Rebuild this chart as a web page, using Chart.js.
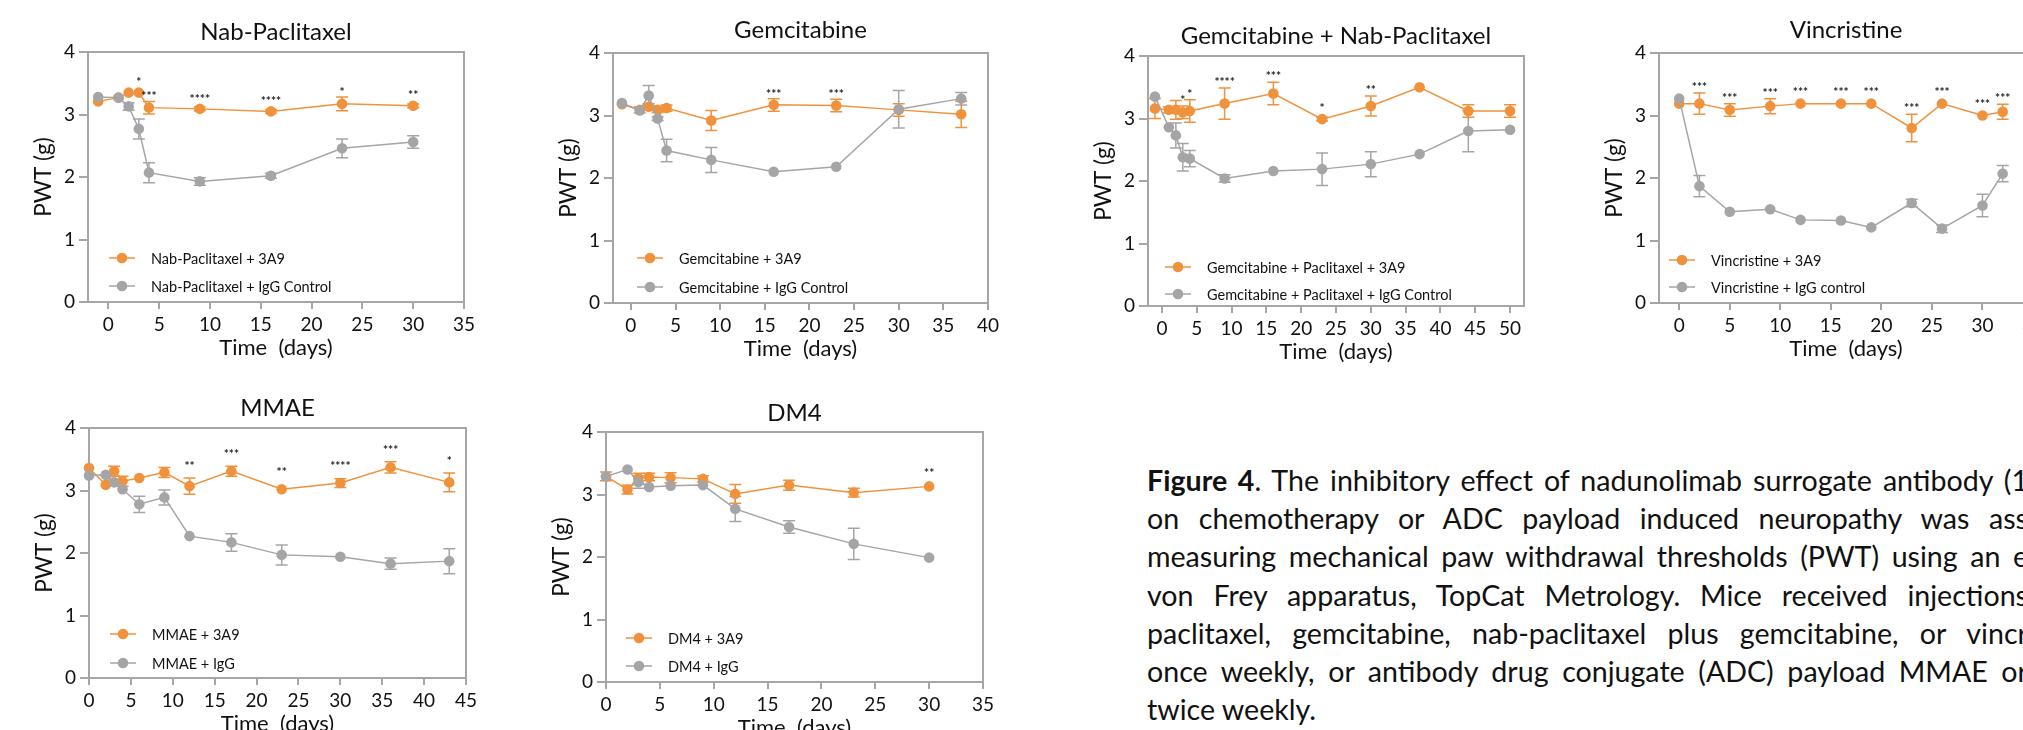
<!DOCTYPE html>
<html>
<head>
<meta charset="utf-8">
<script src="https://cdn.jsdelivr.net/npm/chart.js@4.4.0/dist/chart.umd.min.js"></script>
<style>
  html, body { margin: 0; padding: 0; background: #fff; width: 2023px; height: 730px; overflow: hidden; }
  canvas { position: absolute; }
  .caption { position: absolute; left: 1147px; top: 461px; font-family: Lato, sans-serif; font-size: 28.6px; color: #111; }
  .caption div { width: 881px; line-height: 38.2px; text-align: justify; text-align-last: justify; }
  .caption div.last { text-align-last: left; }
</style>
</head>
<body>
<div class="caption">
  <div><b>Figure 4</b>. The inhibitory effect of nadunolimab surrogate antibody (1</div>
  <div>on chemotherapy or ADC payload induced neuropathy was ass</div>
  <div>measuring mechanical paw withdrawal thresholds (PWT) using an e</div>
  <div>von Frey apparatus, TopCat Metrology. Mice received injections</div>
  <div>paclitaxel, gemcitabine, nab-paclitaxel plus gemcitabine, or vincr</div>
  <div>once weekly, or antibody drug conjugate (ADC) payload MMAE or</div>
  <div class="last">twice weekly.</div>
</div>
<script>
const orange = "#F0923B";
const gray = "#A5A5A8";
const frameColor = "#A6A6A9";

// Nab-Paclitaxel
const nabDays = [-1, 1, 2, 3, 4, 9, 16, 23, 30];
const nab3A9 = [3.21, 3.27, 3.35, 3.35, 3.11, 3.09, 3.05, 3.17, 3.14];
const nab3A9Err = [0, 0, 0, 0, 0.1, 0.03, 0.03, 0.11, 0.03];
const nabIgG = [3.28, 3.27, 3.13, 2.77, 2.07, 1.93, 2.02, 2.46, 2.56];
const nabIgGErr = [0, 0, 0.06, 0.16, 0.16, 0.06, 0.04, 0.15, 0.1];
const nabStarDays = [3, 4, 9, 16, 23, 30];
const nabStars = ["*", "***", "****", "****", "*", "**"];

// Gemcitabine
const gemDays = [-1, 1, 2, 3, 4, 9, 16, 23, 30, 37];
const gem3A9 = [3.18, 3.09, 3.14, 3.09, 3.12, 2.92, 3.17, 3.16, 3.09, 3.02];
const gem3A9Err = [0, 0.05, 0.05, 0.04, 0.05, 0.16, 0.1, 0.1, 0.1, 0.21];
const gemIgG = [3.2, 3.08, 3.32, 2.95, 2.44, 2.29, 2.1, 2.18, 3.1, 3.27];
const gemIgGErr = [0, 0, 0.16, 0.03, 0.18, 0.2, 0, 0, 0.3, 0.1];
const gemStarDays = [16, 23];
const gemStars = ["***", "***"];

// Gemcitabine + Nab-Paclitaxel
const gnDays = [-1, 1, 2, 3, 4, 9, 16, 23, 30, 37, 44, 50];
const gn3A9 = [3.16, 3.14, 3.14, 3.1, 3.12, 3.24, 3.4, 2.99, 3.2, 3.5, 3.12, 3.12];
const gn3A9Err = [0.16, 0.05, 0.15, 0.1, 0.18, 0.25, 0.18, 0.03, 0.16, 0, 0.1, 0.1];
const gnIgG = [3.35, 2.86, 2.73, 2.38, 2.36, 2.04, 2.16, 2.19, 2.27, 2.43, 2.8, 2.82];
const gnIgGErr = [0, 0, 0.2, 0.22, 0.13, 0.06, 0, 0.26, 0.2, 0, 0.33, 0];
const gnStarDays = [3, 4, 9, 16, 23, 30];
const gnStars = ["*", "*", "****", "***", "*", "**"];

// Vincristine
const vinDays = [0, 2, 5, 9, 12, 16, 19, 23, 26, 30, 32];
const vin3A9 = [3.19, 3.19, 3.09, 3.15, 3.19, 3.19, 3.19, 2.8, 3.19, 3.0, 3.06];
const vin3A9Err = [0, 0.17, 0.1, 0.12, 0, 0, 0, 0.22, 0, 0, 0.12];
const vinIgG = [3.27, 1.87, 1.46, 1.5, 1.33, 1.32, 1.21, 1.6, 1.19, 1.56, 2.07];
const vinIgGErr = [0, 0.17, 0, 0, 0, 0, 0, 0.06, 0.06, 0.18, 0.13];
const vinStarDays = [2, 5, 9, 12, 16, 19, 23, 26, 30, 32];
const vinStars = ["***", "***", "***", "***", "***", "***", "***", "***", "***", "***"];

// MMAE
const mmaeDays = [0, 2, 3, 4, 6, 9, 12, 17, 23, 30, 36, 43];
const mmae3A9 = [3.36, 3.09, 3.31, 3.15, 3.2, 3.29, 3.07, 3.31, 3.02, 3.12, 3.37, 3.13];
const mmae3A9Err = [0, 0, 0.08, 0.08, 0, 0.08, 0.13, 0.08, 0, 0.07, 0.09, 0.15];
const mmaeIgG = [3.24, 3.25, 3.13, 3.02, 2.78, 2.89, 2.27, 2.17, 1.97, 1.94, 1.83, 1.87];
const mmaeIgGErr = [0, 0, 0, 0, 0.13, 0.12, 0, 0.14, 0.16, 0, 0.09, 0.2];
const mmaeStarDays = [12, 17, 23, 30, 36, 43];
const mmaeStars = ["**", "***", "**", "****", "***", "*"];

// DM4
const dm4Days = [0, 2, 3, 4, 6, 9, 12, 17, 23, 30];
const dm43A9 = [3.29, 3.08, 3.26, 3.28, 3.27, 3.25, 3.01, 3.15, 3.03, 3.13];
const dm43A9Err = [0.07, 0.07, 0.08, 0.06, 0.08, 0.05, 0.15, 0.08, 0.07, 0];
const dm4IgG = [3.29, 3.4, 3.2, 3.12, 3.14, 3.15, 2.77, 2.48, 2.21, 1.99];
const dm4IgGErr = [0, 0, 0.1, 0, 0, 0, 0.2, 0.1, 0.25, 0];
const dm4StarDays = [30];
const dm4Stars = ["**"];

const yTicks = [0, 1, 2, 3, 4];

const panels = [
  { left: 0, top: 0, plotW: 376, xMin: -2, xMax: 35, title: "Nab-Paclitaxel", titleGap: 21,
    days: nabDays, treat: nab3A9, treatErr: nab3A9Err, ctrl: nabIgG, ctrlErr: nabIgGErr,
    starDays: nabStarDays, stars: nabStars, starGap: 8,
    labels: ["Nab-Paclitaxel + 3A9", "Nab-Paclitaxel + IgG Control"], legX: 34, legY: [-44, -16] },
  { left: 525, top: 1, plotW: 375, xMin: -2, xMax: 40, title: "Gemcitabine", titleGap: 24,
    days: gemDays, treat: gem3A9, treatErr: gem3A9Err, ctrl: gemIgG, ctrlErr: gemIgGErr,
    starDays: gemStarDays, stars: gemStars, starGap: 8,
    labels: ["Gemcitabine + 3A9", "Gemcitabine + IgG Control"], legX: 37, legY: [-45, -16] },
  { left: 1060, top: 4, plotW: 376, xMin: -2, xMax: 52, title: "Gemcitabine + Nab-Paclitaxel", titleGap: 21,
    days: gnDays, treat: gn3A9, treatErr: gn3A9Err, ctrl: gnIgG, ctrlErr: gnIgGErr,
    starDays: gnStarDays, stars: gnStars, starGap: 9,
    labels: ["Gemcitabine + Paclitaxel + 3A9", "Gemcitabine + Paclitaxel + IgG Control"], legX: 30, legY: [-39, -12] },
  { left: 1571, top: 1, plotW: 374, xMin: -2, xMax: 35, title: "Vincristine", titleGap: 24,
    days: vinDays, treat: vin3A9, treatErr: vin3A9Err, ctrl: vinIgG, ctrlErr: vinIgGErr,
    starDays: vinStarDays, stars: vinStars, starGap: 9,
    labels: ["Vincristine + 3A9", "Vincristine + IgG control"], legX: 23, legY: [-43, -16] },
  { left: 1, top: 376, plotW: 377, xMin: 0, xMax: 45, title: "MMAE", titleGap: 21,
    days: mmaeDays, treat: mmae3A9, treatErr: mmae3A9Err, ctrl: mmaeIgG, ctrlErr: mmaeIgGErr,
    starDays: mmaeStarDays, stars: mmaeStars, starGap: 15,
    labels: ["MMAE + 3A9", "MMAE + IgG"], legX: 34, legY: [-44, -15] },
  { left: 518, top: 380, plotW: 377, xMin: 0, xMax: 35, title: "DM4", titleGap: 20,
    days: dm4Days, treat: dm43A9, treatErr: dm43A9Err, ctrl: dm4IgG, ctrlErr: dm4IgGErr,
    starDays: dm4StarDays, stars: dm4Stars, starGap: 11,
    labels: ["DM4 + 3A9", "DM4 + IgG"], legX: 33, legY: [-44, -16] }
];

const R = 5.3;

// frame, error bars, title, stars, legend
const decor = {
  id: "decor",
  beforeDatasetsDraw(chart) {
    const ctx = chart.ctx, a = chart.chartArea;
    const xs = chart.scales.x, ys = chart.scales.y;
    ctx.save();
    ctx.strokeStyle = frameColor;
    ctx.lineWidth = 2;
    ctx.strokeRect(a.left, a.top, a.right - a.left, a.bottom - a.top);
    chart.data.datasets.forEach(ds => {
      ctx.strokeStyle = ds.borderColor;
      ctx.lineWidth = 1.5;
      ds.data.forEach((p, i) => {
        const e = ds.errs[i];
        if (!e) return;
        const x = xs.getPixelForValue(p.x);
        const y1 = ys.getPixelForValue(p.y + e), y2 = ys.getPixelForValue(p.y - e);
        ctx.beginPath();
        ctx.moveTo(x, y1); ctx.lineTo(x, y2);
        ctx.moveTo(x - 6, y1); ctx.lineTo(x + 6, y1);
        ctx.moveTo(x - 6, y2); ctx.lineTo(x + 6, y2);
        ctx.stroke();
      });
    });
    ctx.restore();
  },
  afterDraw(chart) {
    const p = chart.options.plugins.decor;
    const ctx = chart.ctx, a = chart.chartArea;
    const xs = chart.scales.x, ys = chart.scales.y;
    ctx.save();
    // title
    ctx.fillStyle = "#111";
    ctx.font = "24px Lato";
    ctx.textAlign = "center";
    ctx.textBaseline = "alphabetic";
    ctx.fillText(p.title, (a.left + a.right) / 2, a.top - p.titleGap + 8.6);
    // significance stars
    ctx.font = "bold 12px Lato";
    ctx.fillStyle = "#222";
    p.starDays.forEach((d, k) => {
      const i = p.days.indexOf(d);
      const v = p.treat[i], e = p.treatErr[i];
      const top = Math.min(ys.getPixelForValue(v + e), ys.getPixelForValue(v) - R);
      ctx.fillText(p.stars[k], xs.getPixelForValue(d), top - p.starGap + 7);
    });
    // legend
    const cols = [orange, gray];
    ctx.font = "14.5px Lato";
    ctx.textAlign = "left";
    ctx.textBaseline = "middle";
    p.labels.forEach((lab, i) => {
      const mx = a.left + p.legX, my = a.bottom + p.legY[i];
      ctx.strokeStyle = cols[i];
      ctx.lineWidth = 1.5;
      ctx.beginPath();
      ctx.moveTo(mx - 13, my); ctx.lineTo(mx + 13, my);
      ctx.stroke();
      ctx.fillStyle = cols[i];
      ctx.beginPath();
      ctx.arc(mx, my, R, 0, Math.PI * 2);
      ctx.fill();
      ctx.fillStyle = "#111";
      ctx.fillText(lab, mx + 29, my + 1);
    });
    ctx.restore();
  }
};

function series(days, vals, errs, color, label) {
  return {
    label: label,
    data: days.map((d, i) => ({ x: d, y: vals[i] })),
    errs: errs,
    borderColor: color,
    backgroundColor: color,
    showLine: true,
    borderWidth: 1.5,
    pointRadius: R,
    pointHoverRadius: R,
    pointBorderWidth: 0,
    clip: false
  };
}

panels.forEach(p => {
  const canvas = document.createElement("canvas");
  canvas.width = p.plotW + 108;
  canvas.height = 362;
  canvas.style.left = p.left + "px";
  canvas.style.top = p.top + "px";
  document.body.appendChild(canvas);

  new Chart(canvas, {
    type: "scatter",
    data: {
      datasets: [
        series(p.days, p.ctrl, p.ctrlErr, gray, p.labels[1]),
        series(p.days, p.treat, p.treatErr, orange, p.labels[0])
      ]
    },
    options: {
      responsive: false,
      animation: false,
      devicePixelRatio: 1,
      layout: { padding: { top: 52, left: 0, right: 20, bottom: 0 } },
      plugins: { legend: { display: false }, tooltip: { enabled: false }, decor: p },
      scales: {
        x: {
          type: "linear", min: p.xMin, max: p.xMax,
          afterFit: s => { s.height = 60; },
          ticks: { stepSize: 5, includeBounds: false, autoSkip: false, maxRotation: 0,
                   color: "#111", font: { family: "Lato", size: 19 }, padding: 4 },
          grid: { drawOnChartArea: false, drawTicks: true, tickLength: 7, color: frameColor, lineWidth: 2 },
          border: { display: false },
          title: { display: true, text: "Time  (days)", color: "#111",
                   font: { family: "Lato", size: 22 }, padding: { top: 0, bottom: 1 } }
        },
        y: {
          min: yTicks[0], max: yTicks[yTicks.length - 1],
          afterFit: s => { s.width = 88; },
          afterBuildTicks: s => { s.ticks = yTicks.map(v => ({ value: v })); },
          ticks: { color: "#111", font: { family: "Lato", size: 19 }, padding: 4 },
          grid: { drawOnChartArea: false, drawTicks: true, tickLength: 9, color: frameColor, lineWidth: 2 },
          border: { display: false },
          title: { display: true, text: "PWT (g)", color: "#111",
                   font: { family: "Lato", size: 22.5 }, padding: { top: 30, bottom: 0 } }
        }
      }
    },
    plugins: [decor]
  });
});
</script>
</body>
</html>
